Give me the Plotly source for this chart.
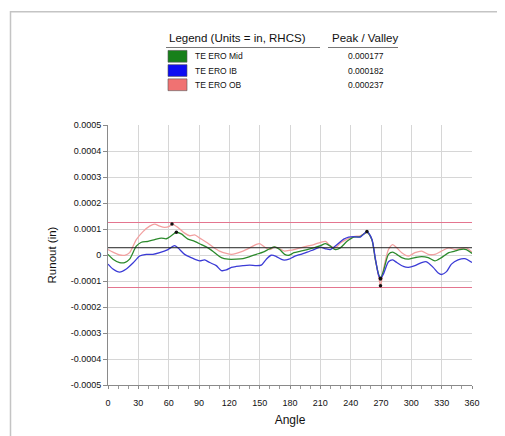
import plotly.graph_objects as go

# ---------------- data (runout values in units of 1e-5 in) ----------------
mid_angles = [0, 4.9, 11.5, 16.5, 21.4, 28, 33, 39.6, 46.2, 52.7, 57.7, 62.6, 67.6, 72.5, 79.1,
              85.7, 92.3, 98.9, 105.5, 112.1, 118.7, 126.9, 133.5, 140.1, 146.7, 153.3, 159.9,
              164.8, 169.8, 174.7, 179, 183.9, 190.5, 197, 203.6, 210.2, 215.1, 220, 224.9,
              229.8, 236.4, 243, 249.5, 256.1, 261, 264.3, 267.5, 269.5, 272.5, 277.4, 281.6,
              285.6, 290.5, 297.1, 303.6, 310.2, 316.7, 323.3, 329.8, 337, 343, 347.9, 354.4, 360]
mid_e5 = [0.25, -1.6, -2.9, -2.9, -1.6, 3.4, 4.9, 5.25, 5.9, 6.5, 6.25, 7.4, 8.75, 8.1, 6.1,
          5.25, 4.0, 2.75, 0.9, -1.0, -1.6, -1.6, -1.4, -0.6, 0.25, 1.1, 2.4,
          3.1, 2.1, 0.25, -0.1, 0.9, 1.5, 2.1, 2.75, 3.6, 4.4, 3.4, 2.1,
          2.75, 5.25, 6.9, 7.1, 8.75, 5.9, -1.6, -7.25, -8.95, -6.0, 0.25, 1.1,
          0.25, -1.0, -1.6, -1.0, -0.6, -1.0, -2.25, -1.0, 0.9, 1.5, 2.1, 2.1, 0.6]

ib_angles = [0, 4.9, 11.5, 18.1, 24.7, 31.3, 37.9, 44.5, 51.1, 59.3, 65.9, 69.2, 75.8, 82.4,
             90.7, 95.6, 100.5, 107.1, 112.1, 117, 122, 126.9, 133.5, 140.1, 146.7, 151.6,
             156.6, 161.5, 166.5, 173.1, 179, 183.9, 190.5, 197, 203.6, 210.2, 215.1, 220,
             226.6, 233.1, 238, 243, 249.5, 256.1, 261, 264.3, 267.5, 269.5, 272.5, 277.4,
             281.6, 285.6, 292.1, 297.1, 303.6, 310.2, 315.1, 321.6, 326.6, 329.8, 334.8,
             339.7, 346.2, 352.8, 360]
ib_e5 = [-3.5, -5.4, -6.6, -5.4, -3.1, -0.4, 0.25, 0.25, 0.9, 2.1, 3.6, 2.75, 0.25, -1.0,
         -2.25, -1.9, -2.9, -4.1, -6.0, -5.75, -4.75, -4.4, -4.1, -3.9, -4.1, -3.9,
         -1.6, -0.1, -0.6, -1.9, -1.6, -0.6, 0.25, 1.1, 2.1, 3.0, 2.4, 2.1,
         4.0, 6.1, 6.9, 7.1, 6.9, 9.0, 6.1, -1.0, -7.6, -9.2, -7.25, -2.6,
         -1.9, -2.9, -4.4, -4.75, -4.1, -2.9, -2.6, -4.75, -6.9, -7.5, -6.4,
         -3.5, -1.9, -1.4, -2.9]

ob_angles = [0, 4.9, 11.5, 16.5, 21.4, 28, 34.6, 41.2, 46.2, 51.1, 56, 61, 63.3, 69.2, 75.8,
             80.8, 85.7, 90.7, 97.3, 103.8, 110.4, 117, 122, 126.9, 133.5, 140.1, 146.7, 150,
             154.9, 159.9, 164.8, 169.8, 174.7, 179, 183.9, 190.5, 197, 203.6, 210.2, 215.1,
             220, 224.9, 229.8, 236.4, 243, 249.5, 256.1, 261, 264.3, 267.5, 269.5, 272.5,
             277.4, 281.6, 285.6, 290.5, 297.1, 303.6, 310.2, 316.7, 323.3, 329.8, 337, 343,
             347.9, 354.4, 360]
ob_e5 = [2.1, 1.1, 0.0, -0.1, 0.9, 5.9, 9.0, 11.1, 11.9, 11.1, 10.6, 11.1, 11.9, 10.6, 8.4,
         7.4, 7.75, 6.5, 4.9, 3.1, 1.5, 0.6, 0.25, 0.6, 1.5, 2.75, 4.1, 4.4,
         3.1, 2.1, 3.0, 2.4, 1.5, 1.75, 2.1, 2.75, 3.4, 4.0, 4.9, 5.25,
         3.4, 2.75, 4.6, 6.1, 7.1, 7.4, 8.6, 5.9, -1.6, -7.9, -11.8, -5.4,
         2.1, 4.0, 2.75, 0.9, -0.4, 0.9, 1.5, 0.25, 0.25, 1.5, 2.75, 2.1,
         2.4, 2.75, 1.1]

# peak / valley markers
pv_angles = [63.3, 269.5, 67.6, 269.5, 256.1, 269.5]
pv_e5 = [11.9, -11.8, 8.75, -8.95, 9.0, -9.2]

# reference lines
ref_angles = [0, 360]
mean_e5 = 2.8
tol_upper_e5 = 12.5
tol_lower_e5 = -12.5

series_names = ["TE ERO Mid", "TE ERO IB", "TE ERO OB"]
peak_valley_text = ["0.000177", "0.000182", "0.000237"]

y_ticks = [0.0005, 0.0004, 0.0003, 0.0002, 0.0001, 0, -0.0001, -0.0002, -0.0003, -0.0004, -0.0005]
y_tick_text = ["0.0005", "0.0004", "0.0003", "0.0002", "0.0001", "0",
               "-0.0001", "-0.0002", "-0.0003", "-0.0004", "-0.0005"]
x_ticks = list(range(0, 361, 30))

S = 1e-5
FONT = "Liberation Sans, Arial, Helvetica, sans-serif"

line_colors = ["#2c8a2c", "#3b3bd6", "#f2a0a0"]
swatch_colors = ["#17801a", "#0c0cf2", "#f07272"]

fig = go.Figure()

# reference lines
fig.add_trace(go.Scatter(x=ref_angles, y=[tol_upper_e5 * S] * 2, mode="lines",
                         line=dict(color="#e4758f", width=1), hoverinfo="skip"))
fig.add_trace(go.Scatter(x=ref_angles, y=[tol_lower_e5 * S] * 2, mode="lines",
                         line=dict(color="#e4758f", width=1), hoverinfo="skip"))

for ang, vals, col, nm in [(ob_angles, ob_e5, line_colors[2], series_names[2]),
                           (mid_angles, mid_e5, line_colors[0], series_names[0]),
                           (ib_angles, ib_e5, line_colors[1], series_names[1])]:
    fig.add_trace(go.Scatter(x=ang, y=[v * S for v in vals], mode="lines", name=nm,
                             line=dict(color=col, width=1.3, shape="spline", smoothing=0.7)))

fig.add_trace(go.Scatter(x=ref_angles, y=[mean_e5 * S] * 2, mode="lines",
                         line=dict(color="#222222", width=1), hoverinfo="skip"))

fig.add_trace(go.Scatter(x=pv_angles, y=[v * S for v in pv_e5], mode="markers",
                         marker=dict(color="#111111", size=3.5), hoverinfo="skip"))

# ---------- paper-coordinate helpers (plot area in window px: x 108..472, y 125..390) ----------
def px_x(p):
    return (p - 108) / 364.0

def px_y(p):
    return (390 - p) / 265.0

shapes = []
annotations = []

# outer frame
shapes.append(dict(type="rect", xref="paper", yref="paper",
                   x0=px_x(10.5), x1=px_x(520), y0=px_y(450), y1=px_y(9.5),
                   line=dict(color="#c4c4c4", width=1.5), fillcolor="rgba(0,0,0,0)", layer="below"))

# legend header
annotations.append(dict(text="Legend (Units = in, RHCS)", xref="paper", yref="paper",
                        x=px_x(167), y=px_y(36.5), xanchor="left", yanchor="middle",
                        showarrow=False, font=dict(family=FONT, size=11.5, color="#111111")))
annotations.append(dict(text="Peak / Valley", xref="paper", yref="paper",
                        x=px_x(329.5), y=px_y(36.5), xanchor="left", yanchor="middle",
                        showarrow=False, font=dict(family=FONT, size=11.5, color="#111111")))
shapes.append(dict(type="line", xref="paper", yref="paper", x0=px_x(166), x1=px_x(320),
                   y0=px_y(46), y1=px_y(46), line=dict(color="#777777", width=1.2)))
shapes.append(dict(type="line", xref="paper", yref="paper", x0=px_x(328), x1=px_x(398),
                   y0=px_y(46), y1=px_y(46), line=dict(color="#777777", width=1.2)))

row_tops = [49, 63.5, 78]
for i, nm in enumerate(series_names):
    t = row_tops[i]
    shapes.append(dict(type="rect", xref="paper", yref="paper",
                       x0=px_x(168), x1=px_x(187), y0=px_y(t + 12), y1=px_y(t),
                       fillcolor=swatch_colors[i], line=dict(color="#555555", width=0.6)))
    annotations.append(dict(text=nm, xref="paper", yref="paper", x=px_x(192.5), y=px_y(t + 6),
                            xanchor="left", yanchor="middle", showarrow=False,
                            font=dict(family=FONT, size=8.5, color="#111111")))
    annotations.append(dict(text=peak_valley_text[i], xref="paper", yref="paper",
                            x=px_x(366), y=px_y(t + 6), xanchor="center", yanchor="middle",
                            showarrow=False, font=dict(family=FONT, size=8.5, color="#111111")))

# The page body has an 8px default margin, so the figure is shrunk by 8px and the
# margins are set so the plot area lands at window x 108..472, y 125..390.
fig.update_layout(
    width=497, height=428,
    margin=dict(l=100, r=33, t=117, b=46, pad=0),
    paper_bgcolor="white", plot_bgcolor="white",
    showlegend=False,
    shapes=shapes, annotations=annotations,
    font=dict(family=FONT, color="#111111"),
)

fig.update_xaxes(
    range=[0, 360], tickvals=x_ticks, ticktext=[str(v) for v in x_ticks],
    showgrid=True, gridcolor="#d6d6d6", gridwidth=1,
    showline=True, linecolor="#8a8a8a", linewidth=1,
    ticks="outside", ticklen=3, tickcolor="#8a8a8a",
    minor=dict(dtick=10, ticks="outside", ticklen=3, tickcolor="#9a9a9a", showgrid=False),
    tickfont=dict(family=FONT, size=9, color="#111111"),
    ticklabelstandoff=6,
    zeroline=False,
    title=dict(text="Angle", font=dict(family=FONT, size=12, color="#111111"), standoff=8),
)
fig.update_yaxes(
    range=[-0.0005, 0.0005], tickvals=y_ticks, ticktext=y_tick_text,
    showgrid=True, gridcolor="#d6d6d6", gridwidth=1,
    showline=True, linecolor="#8a8a8a", linewidth=1,
    ticks="outside", ticklen=4, tickcolor="#8a8a8a",
    tickfont=dict(family=FONT, size=9, color="#111111"),
    zeroline=False,
    title=dict(text="Runout (in)", font=dict(family=FONT, size=11.5, color="#111111"), standoff=11),
)

fig.write_html("out.html")
